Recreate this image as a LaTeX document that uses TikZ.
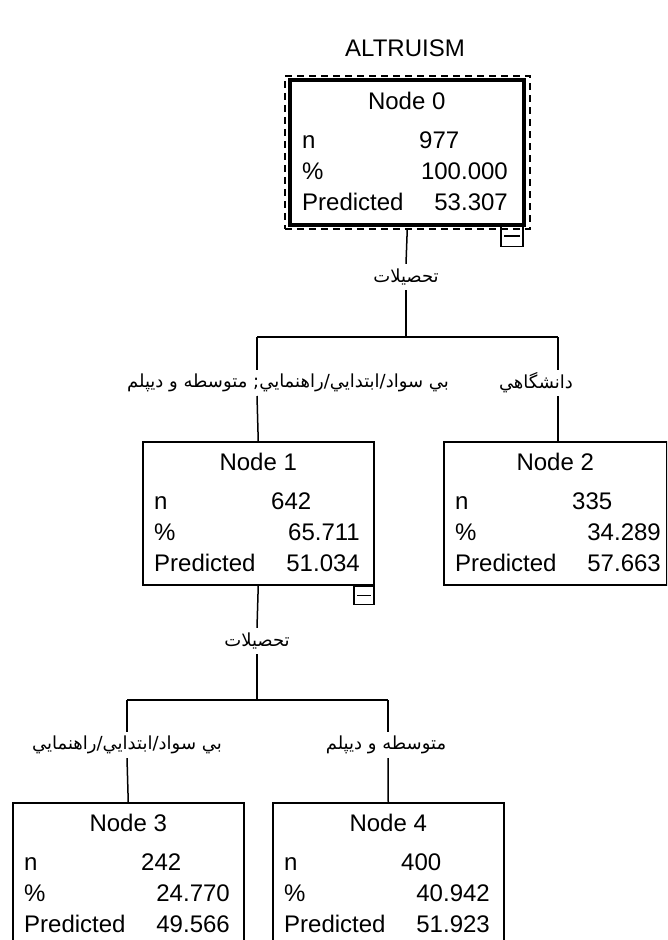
\documentclass[tikz,border=0pt]{standalone}
\usepackage{fontspec}
\setmainfont{Liberation Sans}
\newfontfamily\arabicfont[Script=Arabic]{DejaVu Sans}
\TeXXeTstate=1
\tikzset{
  box/.style={draw, line width=1.5pt, rectangle, minimum height=143pt, inner sep=0pt, anchor=north west},
  txt/.style={inner sep=0pt, font=\fontsize{24}{27}\selectfont},
  albl/.style={inner sep=0pt, minimum height=26pt, font=\arabicfont\fontsize{18}{21}\selectfont},
  conn/.style={line width=1.5pt},
  minusbox/.style={draw, line width=1.5pt, rectangle, inner sep=0pt, anchor=north east},
}
\newcommand\tnode[8]{%
  \node[box, minimum width=#4pt] (#1) at (#2,#3) {};
  \node[txt, anchor=base] (#1t) at ([yshift=-29.5pt]#1.north) {#5};
  \node[txt, anchor=base west] (#1a) at ([xshift=12pt,yshift=-68.5pt]#1.north west) {n};
  \node[txt, anchor=base west] (#1b) at ([xshift=12pt,yshift=-99pt]#1.north west) {\%};
  \node[txt, anchor=base west] (#1c) at ([xshift=12pt,yshift=-130.5pt]#1.north west) {Predicted};
  \node[txt, anchor=base west] (#1d) at ([xshift=129pt,yshift=-68.5pt]#1.north west) {#6};
  \node[txt, anchor=base east] (#1e) at ([xshift=218pt,yshift=-99pt]#1.north west) {#7};
  \node[txt, anchor=base east] (#1f) at ([xshift=218pt,yshift=-130.5pt]#1.north west) {#8};
}
\begin{document}
\begin{tikzpicture}[x=1pt,y=-1pt]
\useasboundingbox (0,0) rectangle (667,940);
\clip (0,0) rectangle (667,940);
\fill[white] (0,0) rectangle (667,940);

\node[txt] (title) at (405,48) {ALTRUISM};

% Node 0
\node[draw, dashed, dash pattern=on 7pt off 5pt, line width=1.5pt, rectangle, inner sep=0pt,
  minimum width=245pt, minimum height=153pt, anchor=north west] (n0o) at (284,75) {};
\tnode{n0}{290}{80}{232}{Node 0}{977}{100.000}{53.307}
\draw[line width=4pt] (n0.north west) rectangle (n0.south east);
\node[minusbox, minimum width=22pt, minimum height=21pt] (m0) at (n0.south east) {};
\draw[line width=1.5pt] ([xshift=4pt]m0.west) -- ([xshift=-4pt]m0.east);

% level 1 connectors
\node[albl] (l0) at (406,277) {\beginR تحصيلات\endR};
\coordinate (h0L) at (257,337);
\coordinate (h0R) at (558,337);
\draw[conn] (n0o.south) -- (l0.north);
\draw[conn] (l0.south) -- (l0.south |- h0L);
\draw[conn] (h0L) -- (h0R);

\node[albl] (l1) at (288,383) {\beginR بي سواد/ابتدايي/راهنمايي; متوسطه و ديپلم\endR};
\node[albl] (l2) at (536,383) {\beginR دانشگاهي\endR};
\coordinate (l1n) at (257,370);
\coordinate (l1s) at (257,396);
\coordinate (l2n) at (558,370);
\coordinate (l2s) at (558,396);
\draw[conn] (h0L) -- (l1n);
\draw[conn] (h0R) -- (l2n);

\tnode{n1}{142}{441}{231}{Node 1}{642}{65.711}{51.034}
\tnode{n2}{443}{441}{223}{Node 2}{335}{34.289}{57.663}
\draw[conn] (l1s) -- (n1.north);
\draw[conn] (l2s) -- (l2s |- n2.north);

\node[minusbox, minimum width=20pt, minimum height=18pt] (m1) at (n1.south east) {};
\draw[line width=1.5pt] ([xshift=4pt]m1.west) -- ([xshift=-4pt]m1.east);

% level 2
\node[albl] (l3) at (257,641) {\beginR تحصيلات\endR};
\coordinate (h1L) at (127,700);
\coordinate (h1R) at (388,700);
\draw[conn] (n1.south) -- (l3.north);
\draw[conn] (l3.south) -- (l3.south |- h1L);
\draw[conn] (h1L) -- (h1R);

\node[albl] (l4) at (127,745) {\beginR بي سواد/ابتدايي/راهنمايي\endR};
\node[albl] (l5) at (386,745) {\beginR متوسطه و ديپلم\endR};
\draw[conn] (h1L) -- (l4.north);
\draw[conn] (h1R) -- (h1R |- l5.north);

\tnode{n3}{12}{802}{231}{Node 3}{242}{24.770}{49.566}
\tnode{n4}{272}{802}{231}{Node 4}{400}{40.942}{51.923}
\draw[conn] (l4.south) -- (n3.north);
\draw[conn] (h1R |- l5.south) -- (n4.north);
\end{tikzpicture}
\end{document}
